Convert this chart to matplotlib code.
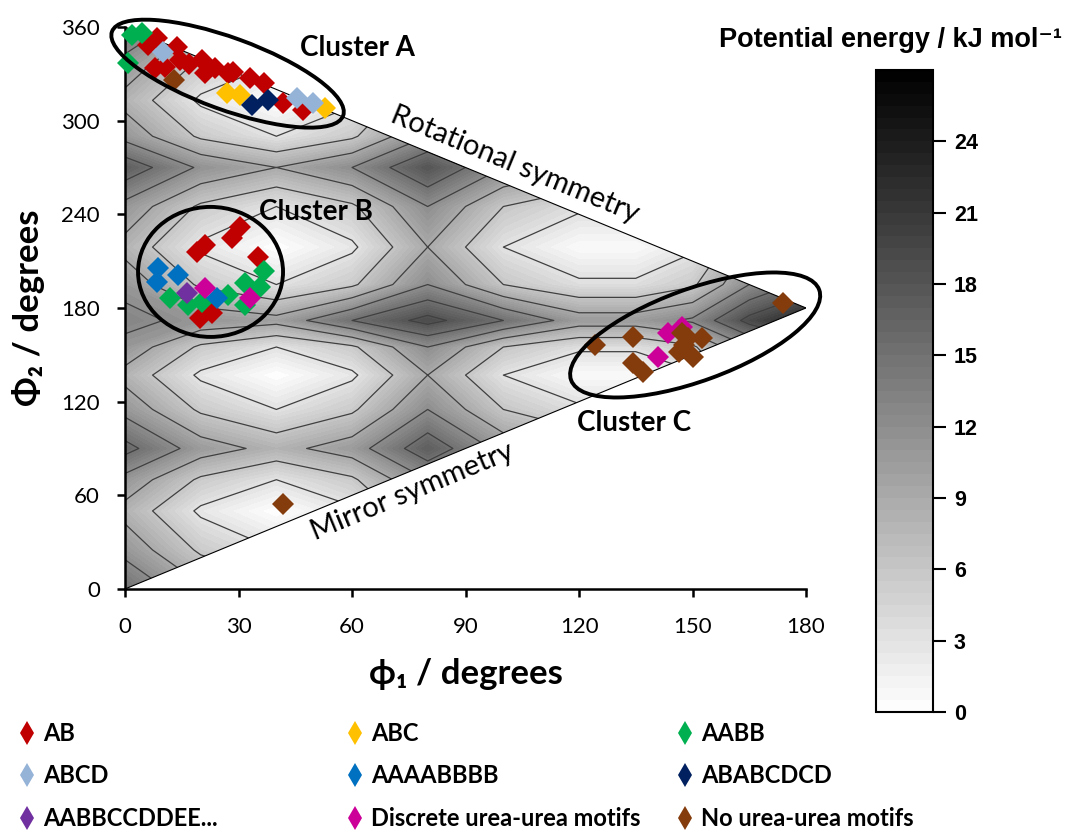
import numpy as np
import matplotlib
matplotlib.use("Agg")
import matplotlib.pyplot as plt
from matplotlib.patches import Ellipse, Polygon
from matplotlib.lines import Line2D
from matplotlib.transforms import Affine2D

# potential energy map (kJ/mol) on a coarse grid
phi1_nodes = [0, 20, 40, 60, 80, 100, 120, 135, 150, 165, 180]
phi2_nodes = [0, 25, 50, 70, 90, 115, 137, 155, 172, 195, 219, 245, 270, 290, 313, 337, 360]
energy = [
    [15, 9.5, 7, 9.5, 16, 10, 7.5, 7.5, 9.5, 16, 20],
    [11, 5.5, 3, 5.5, 12, 6, 3.5, 3.5, 5.5, 12, 16],
    [8, 2.5, 0, 2.5, 9, 3, 0.5, 0.5, 2.5, 9, 13],
    [11, 5.5, 3, 5.5, 12, 6, 3.5, 3.5, 5.5, 12, 16],
    [16, 10.5, 8, 10.5, 17, 11, 8.5, 8.5, 10.5, 17, 21],
    [11, 5.5, 3, 5.5, 12, 6, 3.5, 3.5, 5.5, 12, 16],
    [8, 2.5, 0, 2.5, 9, 3, 0.5, 0.5, 2.5, 9, 13],
    [11, 5.5, 3, 5.5, 12, 6, 3.5, 3.5, 5.5, 12, 16],
    [13, 11, 10, 15, 19, 15, 10.5, 10.5, 12.5, 19, 23],
    [11, 5.5, 3, 5.5, 12, 6, 3.5, 3.5, 5.5, 12, 16],
    [8, 2.5, 0, 2.5, 9, 3, 0.5, 0.5, 2.5, 9, 13],
    [11, 5.5, 3, 5.5, 12, 6, 3.5, 3.5, 5.5, 12, 16],
    [17, 11.5, 9, 12, 18, 12, 9.5, 9.5, 11.5, 18, 22],
    [11, 5.5, 3, 5.5, 12, 6, 3.5, 3.5, 5.5, 12, 16],
    [8, 2.5, 0, 2.5, 9, 3, 0.5, 0.5, 2.5, 9, 13],
    [11, 5.5, 3, 5.5, 12, 6, 3.5, 3.5, 5.5, 12, 16],
    [15, 9.5, 7, 9.5, 16, 10, 7.5, 7.5, 9.5, 16, 20],
]

# crystal structures (phi1, phi2) per motif
ab_phi1 = [8.4, 6.2, 13.7, 7.9, 10.6, 14.5, 17.0, 20.3, 21.1, 23.8, 27.2, 28.6, 33.0, 36.6, 41.8, 47.1,
           30.4, 28.2, 19.0, 21.1, 35.2, 19.8, 22.9]
ab_phi2 = [352.8, 348.5, 347.4, 333.6, 334.6, 338.9, 336.0, 338.9, 330.4, 333.6, 330.6, 331.4, 327.2, 323.9, 311.1, 306.8,
           232.1, 224.7, 216.1, 220.4, 212.9, 173.4, 176.6]
abc_phi1 = [26.9, 30.4, 52.9]
abc_phi2 = [317.5, 316.3, 307.9]
aabb_phi1 = [1.8, 4.4, 0.7, 36.6, 31.7, 35.7, 27.3, 31.7, 11.9, 16.7, 20.3]
aabb_phi2 = [354.9, 356.0, 336.8, 204.0, 195.8, 193.7, 188.3, 181.9, 186.2, 181.9, 184.0]
abcd_phi1 = [10.1, 45.4, 49.8]
abcd_phi2 = [344.2, 314.3, 311.1]
aaaabbbb_phi1 = [8.8, 8.4, 14.1, 24.2]
aaaabbbb_phi2 = [205.4, 196.9, 201.2, 186.2]
ababcdcd_phi1 = [33.5, 37.9]
ababcdcd_phi2 = [310.1, 313.3]
aabbccddee_phi1 = [16.3]
aabbccddee_phi2 = [189.4]
discrete_phi1 = [21.1, 33.0, 143.6, 147.2, 141.0]
discrete_phi2 = [192.6, 186.2, 163.8, 168.0, 148.8]
nourea_phi1 = [13.0, 41.8, 174.0, 124.2, 134.4, 134.4, 137.0, 147.2, 148.9, 152.4, 146.3, 150.2, 147.8]
nourea_phi2 = [326.0, 54.5, 183.0, 156.3, 161.6, 144.6, 139.2, 163.8, 160.6, 160.6, 152.0, 148.8, 156.3]

series = [
    ("AB", "#C00000", ab_phi1, ab_phi2),
    ("ABC", "#FFC000", abc_phi1, abc_phi2),
    ("AABB", "#00B050", aabb_phi1, aabb_phi2),
    ("ABCD", "#95B3D7", abcd_phi1, abcd_phi2),
    ("AAAABBBB", "#0070C0", aaaabbbb_phi1, aaaabbbb_phi2),
    ("ABABCDCD", "#002060", ababcdcd_phi1, ababcdcd_phi2),
    ("AABBCCDDEE...", "#7030A0", aabbccddee_phi1, aabbccddee_phi2),
    ("Discrete urea-urea motifs", "#CC0099", discrete_phi1, discrete_phi2),
    ("No urea-urea motifs", "#843C0C", nourea_phi1, nourea_phi2),
]

# clusters: centre (phi1, phi2), semi-axes in pixels, tilt
clusters = [((27.1, 330.1), 123, 36, -20), ((22.6, 203.1), 72.5, 65, 0), ((150.7, 162.7), 132, 46, 20)]

W, H, DPI = 10.66, 8.30, 100
fig = plt.figure(figsize=(W, H), dpi=DPI)
ax_pos = [0.1173, 0.2904, 0.6388, 0.6771]
ax = fig.add_axes(ax_pos)
cax = fig.add_axes([0.8218, 0.1422, 0.0535, 0.7735])

cal = ["Lato", "DejaVu Sans"]
ari = ["Liberation Sans", "DejaVu Sans"]

P1, P2 = np.meshgrid(phi1_nodes, phi2_nodes)
E = np.array(energy)
tri = Polygon([(0, 0), (0, 360), (180, 180)], closed=True, transform=ax.transData, facecolor="none", edgecolor="none")
cf = ax.contourf(P1, P2, E, levels=np.arange(0, 27.01, 0.5), cmap="gray_r", vmin=0, vmax=27)
cl = ax.contour(P1, P2, E, levels=np.arange(3, 27, 3), colors="#404040", linewidths=0.9)
cf.set_clip_path(tri)
cl.set_clip_path(tri)
ax.plot([0, 180], [360, 180], color="black", lw=0.8)
ax.plot([0, 180], [0, 180], color="black", lw=0.8)

for name, col, xs, ys in series:
    ax.plot(xs, ys, "D", color=col, ms=11.5, mew=0, zorder=5, clip_on=False)

# ellipses drawn in pixel units so tilt looks right on screen
sx = ax_pos[2] * W * DPI / 180
sy = ax_pos[3] * H * DPI / 360
to_data = Affine2D().scale(1 / sx, 1 / sy) + ax.transData
for (cx, cy), a, b, ang in clusters:
    e = Ellipse((cx * sx, cy * sy), 2 * a, 2 * b, angle=ang, transform=to_data,
                fill=False, edgecolor="black", lw=2.8, zorder=6, clip_on=False)
    ax.add_patch(e)

ax.text(61.3, 346.6, "Cluster A", family=cal, weight="bold", fontsize=20, ha="center", va="center", zorder=7)
ax.text(50.5, 241.5, "Cluster B", family=cal, weight="bold", fontsize=20, ha="center", va="center", zorder=7)
ax.text(134.5, 106.3, "Cluster C", family=cal, weight="bold", fontsize=20, ha="center", va="center", zorder=7)
ax.text(103.1, 271.6, "Rotational symmetry", family=cal, fontsize=21, rotation=-22.4,
        rotation_mode="anchor", ha="center", va="center")
ax.text(75.9, 62.1, "Mirror symmetry", family=cal, fontsize=21, rotation=22.4,
        rotation_mode="anchor", ha="center", va="center")

ax.set_xlim(0, 180)
ax.set_ylim(0, 360)
ax.set_xticks(range(0, 181, 30))
ax.set_yticks(range(0, 361, 60))
for s in ["top", "right"]:
    ax.spines[s].set_visible(False)
for s in ["left", "bottom"]:
    ax.spines[s].set_linewidth(1.8)
ax.tick_params(direction="out", length=6, width=1.8, labelsize=16)
ax.tick_params(axis="x", pad=14)
ax.tick_params(axis="y", pad=12)
for lab in ax.get_xticklabels() + ax.get_yticklabels():
    lab.set_family(cal)
ax.set_xlabel("ϕ₁ / degrees", family=cal, weight="bold", fontsize=25, labelpad=15)
ax.set_ylabel("Φ₂ / degrees", family=cal, weight="bold", fontsize=25, labelpad=12)

cb = fig.colorbar(cf, cax=cax, ticks=range(0, 25, 3))
cb.outline.set_linewidth(1.5)
cax.tick_params(length=9, width=1.5, labelsize=15.5, pad=6)
for lab in cax.get_yticklabels():
    lab.set_family(ari)
    lab.set_weight("bold")
fig.text(0.996, 0.952, "Potential energy / kJ mol⁻¹", family=ari, weight="bold", fontsize=19.5,
         ha="right", va="center")

# legend in three columns
col_x = [0.0162, 0.3237, 0.6335]
for c in range(3):
    handles = []
    for r in range(3):
        name, col, _, _ = series[r * 3 + c]
        handles.append(Line2D([], [], marker="d", ls="none", color=col, ms=12, mew=0, label=name))
    leg = fig.legend(handles=handles, loc="upper left", bbox_to_anchor=(col_x[c], 0.130), frameon=False,
                     handlelength=0.8, handletextpad=0.3, labelspacing=0.82, borderpad=0, borderaxespad=0,
                     prop={"family": cal, "weight": "bold", "size": 17})

fig.savefig("out.png", dpi=DPI)
